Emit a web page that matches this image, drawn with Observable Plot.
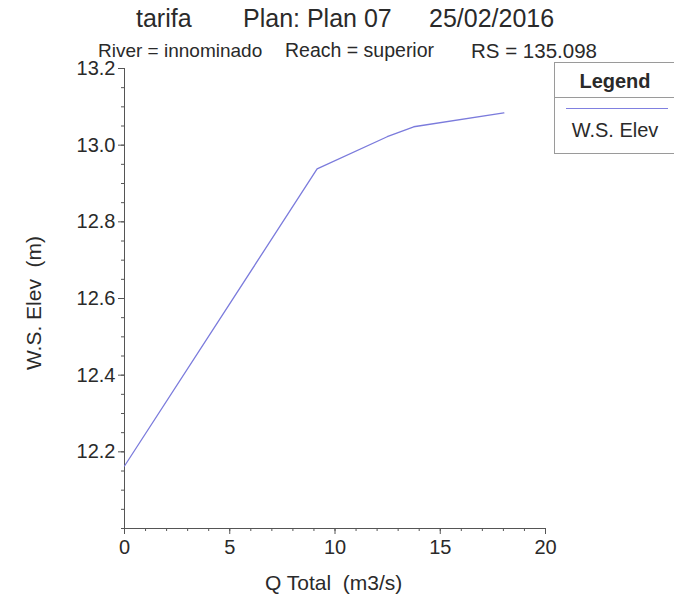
<!DOCTYPE html>
<html>
<head>
<meta charset="utf-8">
<script src="https://cdn.jsdelivr.net/npm/d3@7"></script>
<script src="https://cdn.jsdelivr.net/npm/@observablehq/plot@0.6"></script>
<style>
  html, body { margin: 0; padding: 0; background: #fff; }
  #wrap { position: relative; width: 674px; height: 610px; overflow: hidden; font-family: "Liberation Sans", Arial, sans-serif; color: #2a2a2a; }
  .t { position: absolute; white-space: pre; line-height: 1; }
  #legend { position: absolute; left: 554px; top: 62px; width: 130px; height: 90px; border: 1px solid #9a9a9a; background: #fff; }
</style>
</head>
<body>
<div id="wrap">
  <div class="t" style="left:136px; top:6px; font-size:25px;">tarifa</div>
  <div class="t" style="left:243px; top:6px; font-size:25px;">Plan: Plan 07</div>
  <div class="t" style="left:429px; top:6px; font-size:25px;">25/02/2016</div>
  <div class="t" style="left:98px; top:41px; font-size:19px;">River = innominado</div>
  <div class="t" style="left:285px; top:41px; font-size:19.5px;">Reach = superior</div>
  <div class="t" style="left:471px; top:41px; font-size:20.5px;">RS = 135.098</div>
  <div id="chart"></div>
  <div class="t" style="left:265px; top:572px; font-size:21px;">Q Total&nbsp;&nbsp;(m3/s)</div>
  <div class="t" style="left:33px; top:303px; font-size:21px; transform: translate(-50%, -50%) rotate(-90deg);">W.S. Elev&nbsp;&nbsp;(m)</div>
  <div id="legend">
    <div class="t" style="left:0; width:120px; top:8px; text-align:center; font-size:20px; font-weight:bold;">Legend</div>
    <div style="position:absolute; left:0; top:34px; width:130px; height:0; border-top:1px solid #9a9a9a;"></div>
    <div style="position:absolute; left:11px; top:45px; width:102px; height:1px; background:#8080e0;"></div>
    <div class="t" style="left:0; width:120px; top:57px; text-align:center; font-size:20px;">W.S. Elev</div>
  </div>
</div>
<script>
const qTotal = [0, 9.15, 12.48, 13.74, 18.02];
const wsElev = [12.163, 12.938, 13.022, 13.048, 13.084];
const xTicks = [0, 5, 10, 15, 20];
const yTicks = [12.2, 12.4, 12.6, 12.8, 13.0, 13.2];
const xMinorTicks = d3.range(0, 21, 1);
const yMinorTicks = d3.range(0, 25).map(i => 12 + i * 0.05);

const rows = qTotal.map((q, i) => ({q, ws: wsElev[i]}));

const chart = Plot.plot({
  width: 674,
  height: 610,
  marginLeft: 124,
  marginRight: 129,
  marginTop: 68,
  marginBottom: 82,
  style: {fontFamily: "Liberation Sans, Arial, sans-serif", fontSize: "19px", color: "#2a2a2a", background: "transparent"},
  x: {domain: [0, 20]},
  y: {domain: [12.0, 13.2]},
  marks: [
    Plot.axisX({ticks: xMinorTicks, tickSize: 3, tickFormat: () => "", label: null, stroke: "#555"}),
    Plot.axisX({ticks: xTicks, tickSize: 6, tickPadding: 5, label: null, stroke: "#555", fontSize: 20}),
    Plot.axisY({ticks: yMinorTicks, tickSize: 3, tickFormat: () => "", label: null, stroke: "#555"}),
    Plot.axisY({ticks: yTicks, tickSize: 6, tickPadding: 3, tickFormat: d3.format(".1f"), label: null, stroke: "#555", fontSize: 20}),
    Plot.ruleX([0], {stroke: "#555"}),
    Plot.ruleY([12.0], {stroke: "#555"}),
    Plot.line(rows, {x: "q", y: "ws", stroke: "#7b7bdc", strokeWidth: 1.3})
  ]
});
document.getElementById("chart").appendChild(chart);
</script>
</body>
</html>
